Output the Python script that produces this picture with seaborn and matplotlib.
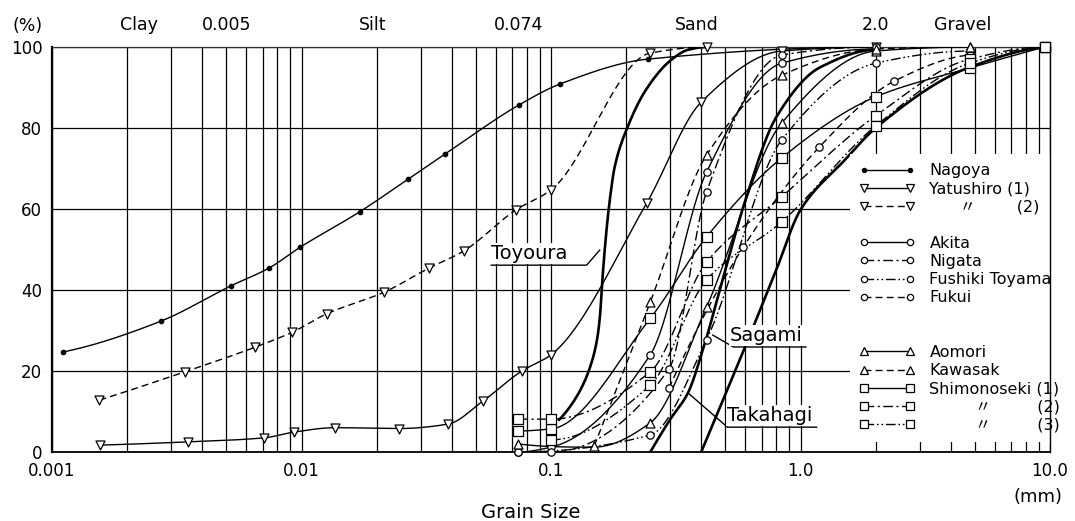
import numpy as np
import pandas as pd
import matplotlib
matplotlib.use("Agg")
import matplotlib.pyplot as plt
from matplotlib.lines import Line2D
from matplotlib.ticker import FixedLocator, LogLocator, NullFormatter
import seaborn as sns

# ---- grain size (mm) and percent finer by weight, per sample ----
nagoya_d = [0.00111, 0.00273, 0.0052, 0.0074, 0.0099, 0.0171, 0.0268, 0.0377, 0.0745, 0.109, 0.244, 2.0]
nagoya_p = [24.7, 32.3, 41.0, 45.4, 50.6, 59.3, 67.4, 73.6, 85.7, 90.9, 97.0, 100.0]

yatsu1_d = [0.00156, 0.0035, 0.0071, 0.0093, 0.0136, 0.0247, 0.0387, 0.0534, 0.0764, 0.1, 0.242, 0.4, 0.84, 2.0]
yatsu1_p = [1.7, 2.5, 3.5, 4.9, 6.0, 5.8, 6.9, 12.6, 20.0, 24.0, 61.5, 86.4, 99.0, 100.0]

yatsu2_d = [0.00155, 0.00341, 0.00653, 0.0092, 0.0126, 0.0215, 0.0324, 0.0446, 0.0724, 0.1, 0.25, 0.42]
yatsu2_p = [12.8, 19.8, 25.9, 29.6, 34.1, 39.5, 45.4, 49.6, 59.8, 64.7, 98.5, 100.0]

akita_d = [0.074, 0.1, 0.25, 0.42, 0.84, 2.0]
akita_p = [0.0, 1.2, 24.0, 69.1, 96.0, 99.5]

nigata_d = [0.1, 0.297, 0.42, 0.84, 2.0]
nigata_p = [0.0, 20.5, 64.2, 98.0, 100.0]

fushiki_d = [0.074, 0.25, 0.42, 0.84, 2.0, 4.76]
fushiki_p = [0.0, 4.2, 27.7, 77.0, 96.0, 99.0]

fukui_d = [0.297, 0.59, 1.19, 2.38, 4.76]
fukui_p = [15.8, 50.6, 75.3, 91.6, 98.0]

aomori_d = [0.074, 0.149, 0.25, 0.42, 0.84, 2.0, 4.76]
aomori_p = [2.0, 1.2, 7.2, 35.8, 81.2, 99.0, 100.0]

kawasaki_d = [0.149, 0.25, 0.42, 0.84, 2.0, 4.76]
kawasaki_p = [1.5, 37.0, 73.3, 93.0, 99.5, 100.0]

shimo1_d = [0.074, 0.1, 0.25, 0.42, 0.84, 2.0, 4.76, 9.52]
shimo1_p = [5.2, 5.7, 33.0, 53.1, 72.6, 87.7, 94.8, 100.0]

shimo2_d = [0.074, 0.1, 0.25, 0.42, 0.84, 2.0, 4.76, 9.52]
shimo2_p = [8.1, 8.1, 19.8, 46.9, 63.0, 83.0, 97.0, 100.0]

shimo3_d = [0.1, 0.25, 0.42, 0.84, 2.0, 4.76, 9.52]
shimo3_p = [3.0, 16.5, 42.5, 56.8, 80.5, 96.0, 100.0]

# reference sands (curves only)
toyoura_d = [0.1075, 0.1166, 0.1311, 0.1435, 0.1529, 0.157, 0.1614, 0.1674, 0.172, 0.18, 0.202, 0.24, 0.303, 0.354, 0.42]
toyoura_p = [7.9, 10.4, 15.3, 21.0, 27.7, 33.3, 44.2, 55.6, 62.2, 70.4, 80.0, 89.4, 96.8, 99.3, 100.0]

takahagi_d = [0.25, 0.3, 0.354, 0.405, 0.5, 0.6, 0.8, 1.2, 2.0]
takahagi_p = [0.0, 8.0, 14.6, 25.0, 45.0, 62.0, 82.7, 95.0, 99.3]

sagami_d = [0.40, 0.476, 0.6, 0.8, 1.0, 1.5, 2.0, 4.76, 9.52]
sagami_p = [0.0, 11.1, 26.0, 45.0, 59.8, 72.0, 80.0, 95.0, 100.0]

size_ticks = [0.001, 0.01, 0.1, 1.0, 10.0]
size_tick_labels = ["0.001", "0.01", "0.1", "1.0", "10.0"]
pct_ticks = [0, 20, 40, 60, 80, 100]
class_bounds = [0.001, 0.005, 0.074, 2.0, 10.0]
class_names = ["Clay", "Silt", "Sand", "Gravel"]


def smooth_curve(d, p, num=240):
    """Shape-preserving cubic (PCHIP) through the readings, in log-size space."""
    lx = np.log10(np.asarray(d, float))
    y = np.asarray(p, float)
    n = len(lx)
    h = np.diff(lx)
    delta = np.diff(y) / h
    m = np.zeros(n)
    if n == 2:
        m[:] = delta[0]
    else:
        for k in range(1, n - 1):
            if delta[k - 1] * delta[k] > 0:
                w1 = 2 * h[k] + h[k - 1]
                w2 = h[k] + 2 * h[k - 1]
                m[k] = (w1 + w2) / (w1 / delta[k - 1] + w2 / delta[k])

        def end(h0, h1, d0, d1):
            s = ((2 * h0 + h1) * d0 - h0 * d1) / (h0 + h1)
            if np.sign(s) != np.sign(d0):
                s = 0.0
            elif np.sign(d0) != np.sign(d1) and abs(s) > abs(3 * d0):
                s = 3 * d0
            return s

        m[0] = end(h[0], h[1], delta[0], delta[1])
        m[-1] = end(h[-1], h[-2], delta[-1], delta[-2])
    t = np.linspace(lx[0], lx[-1], num)
    i = np.clip(np.searchsorted(lx, t, side="right") - 1, 0, n - 2)
    s = (t - lx[i]) / h[i]
    h00 = 2 * s**3 - 3 * s**2 + 1
    h10 = s**3 - 2 * s**2 + s
    h01 = -2 * s**3 + 3 * s**2
    h11 = s**3 - s**2
    yy = h00 * y[i] + h10 * h[i] * m[i] + h01 * y[i + 1] + h11 * h[i] * m[i + 1]
    return 10**t, yy


SOLID = "-"
DASH = (0, (5, 3))
DASHDOT = (0, (7, 2.5, 1.5, 2.5))
DASHDOTDOT = (0, (7, 2, 1.2, 2, 1.2, 2))

# name, sizes, percents, linestyle, marker, filled, scatter size, legend size
samples = [
    ("Nagoya", nagoya_d, nagoya_p, SOLID, "o", True, 10, 3.0),
    ("Yatushiro (1)", yatsu1_d, yatsu1_p, SOLID, "v", False, 42, 5.5),
    ("      \u3003        (2)", yatsu2_d, yatsu2_p, DASH, "v", False, 42, 5.5),
    ("Akita", akita_d, akita_p, SOLID, "o", False, 28, 4.5),
    ("Nigata", nigata_d, nigata_p, DASHDOT, "o", False, 28, 4.5),
    ("Fushiki Toyama", fushiki_d, fushiki_p, DASHDOTDOT, "o", False, 28, 4.5),
    ("Fukui", fukui_d, fukui_p, DASH, "o", False, 28, 4.5),
    ("Aomori", aomori_d, aomori_p, SOLID, "^", False, 42, 5.5),
    ("Kawasak", kawasaki_d, kawasaki_p, DASH, "^", False, 42, 5.5),
    ("Shimonoseki (1)", shimo1_d, shimo1_p, SOLID, "s", False, 50, 5.5),
    ("         \u3003         (2)", shimo2_d, shimo2_p, DASHDOT, "s", False, 50, 5.5),
    ("         \u3003         (3)", shimo3_d, shimo3_p, DASHDOTDOT, "s", False, 50, 5.5),
]
reference_sands = [
    ("Toyoura", toyoura_d, toyoura_p),
    ("Sagami", sagami_d, sagami_p),
    ("Takahagi", takahagi_d, takahagi_p),
]

sns.set_theme(style="white")
plt.rcParams["font.family"] = ["DejaVu Sans", "Noto Sans CJK JP"]
plt.rcParams.update({
    "axes.linewidth": 1.2,
    "text.color": "black",
    "axes.labelcolor": "black",
    "xtick.color": "black",
    "ytick.color": "black",
})

fig = plt.figure(figsize=(10.75, 5.21), dpi=100)
ax = fig.add_axes([52 / 1075, 69 / 521, 998 / 1075, 405 / 521])
ax.set_xscale("log")
ax.set_xlim(size_ticks[0], size_ticks[-1])
ax.set_ylim(0, 100)

# log-paper grid
ax.xaxis.set_major_locator(FixedLocator(size_ticks))
ax.set_xticklabels(size_tick_labels)
ax.xaxis.set_minor_locator(LogLocator(base=10, subs=np.arange(2, 10)))
ax.xaxis.set_minor_formatter(NullFormatter())
ax.set_yticks(pct_ticks)
ax.grid(True, which="both", axis="x", color="black", lw=0.9)
ax.grid(True, which="major", axis="y", color="black", lw=0.9)
ax.set_axisbelow(True)
ax.tick_params(axis="both", which="both", length=0, labelsize=12, colors="black")
ax.tick_params(axis="x", pad=7)
ax.tick_params(axis="y", pad=7)
for side in ["left", "bottom", "right"]:
    ax.spines[side].set_color("black")
ax.spines["left"].set_linewidth(1.6)
ax.spines["bottom"].set_linewidth(1.3)
ax.spines["right"].set_linewidth(1.0)
ax.spines["right"].set_zorder(6)
ax.spines["top"].set_color("#333333")
ax.spines["top"].set_linewidth(0.9)
ax.spines["top"].set_linestyle((0, (3, 1)))

handles, labels = [], []
for name, d, p, ls, mk, filled, s, ms in samples:
    cx, cy = smooth_curve(d, p)
    sns.lineplot(x=cx, y=cy, ax=ax, color="black", lw=1.0, linestyle=ls,
                 sort=False, estimator=None, zorder=3)
    sns.scatterplot(x=d, y=p, ax=ax, marker=mk, s=s,
                    facecolor="black" if filled else "white", edgecolor="black",
                    linewidth=0.9, zorder=4, legend=False, clip_on=False)
    handles.append(Line2D([], [], color="black", lw=1.0, linestyle=ls, marker=mk,
                          markersize=ms, markerfacecolor="black" if filled else "white",
                          markeredgecolor="black", markeredgewidth=0.9))
    labels.append(name)

for name, d, p in reference_sands:
    cx, cy = smooth_curve(d, p)
    sns.lineplot(x=cx, y=cy, ax=ax, color="black", lw=1.9, sort=False,
                 estimator=None, zorder=3)

# blank rows separate the sample groups in the key
blank = Line2D([], [], linestyle="none")
for pos in (3, 8, 8):
    handles.insert(pos, blank)
    labels.insert(pos, "")

leg = ax.legend(handles, labels, loc="upper left", bbox_to_anchor=(0.80, 0.735),
                borderaxespad=0, frameon=True, fancybox=False, framealpha=1,
                facecolor="white", edgecolor="none", fontsize=11.5,
                handlelength=3.5, handletextpad=0.9, labelspacing=0.2,
                borderpad=0.55, numpoints=2)
leg.set_zorder(5)
for t in leg.get_texts():
    t.set_color("black")

# labelled reference curves, underline + leader
label_kw = dict(fontsize=14, ha="left", va="bottom", textcoords="data",
                bbox=dict(boxstyle="square,pad=0.05", fc="white", ec="none"))
leader_kw = dict(arrowstyle="-", lw=1.0, color="black", patchA=None, shrinkA=0, shrinkB=0)
ax.annotate("Toyoura", xy=(0.157, 49.9), xytext=(0.0575, 46.6), **label_kw,
            arrowprops=dict(relpos=(0, -0.1), connectionstyle="angle,angleA=0,angleB=49,rad=0",
                            **leader_kw))
ax.annotate("Sagami", xy=(0.444, 28.9), xytext=(0.52, 26.4), **label_kw,
            arrowprops=dict(relpos=(1.05, -0.1), connectionstyle="angle,angleA=180,angleB=150,rad=0",
                            **leader_kw))
ax.annotate("Takahagi", xy=(0.354, 14.6), xytext=(0.509, 6.6), **label_kw,
            arrowprops=dict(relpos=(1.05, -0.1), connectionstyle="angle,angleA=180,angleB=139,rad=0",
                            **leader_kw))

# soil classes and their boundary sizes along the top
for lo, hi, name in zip(class_bounds[:-1], class_bounds[1:], class_names):
    ax.text(np.sqrt(lo * hi), 105.4, name, ha="center", va="center", fontsize=12.5, clip_on=False)
for b in class_bounds[1:-1]:
    ax.text(b, 105.4, f"{b:g}" if b < 1 else f"{b:.1f}", ha="center", va="center",
            fontsize=12.5, clip_on=False)
ax.text(-0.024, 1.053, "(%)", transform=ax.transAxes, ha="center", va="center", fontsize=12.5)
ax.text(0.988, -0.111, "(mm)", transform=ax.transAxes, ha="center", va="center", fontsize=13)

ax.set_xlabel("Grain Size", fontsize=14)
ax.xaxis.set_label_coords(0.48, -0.125)
ax.set_ylabel("")

fig.savefig("out.png", dpi=100)
